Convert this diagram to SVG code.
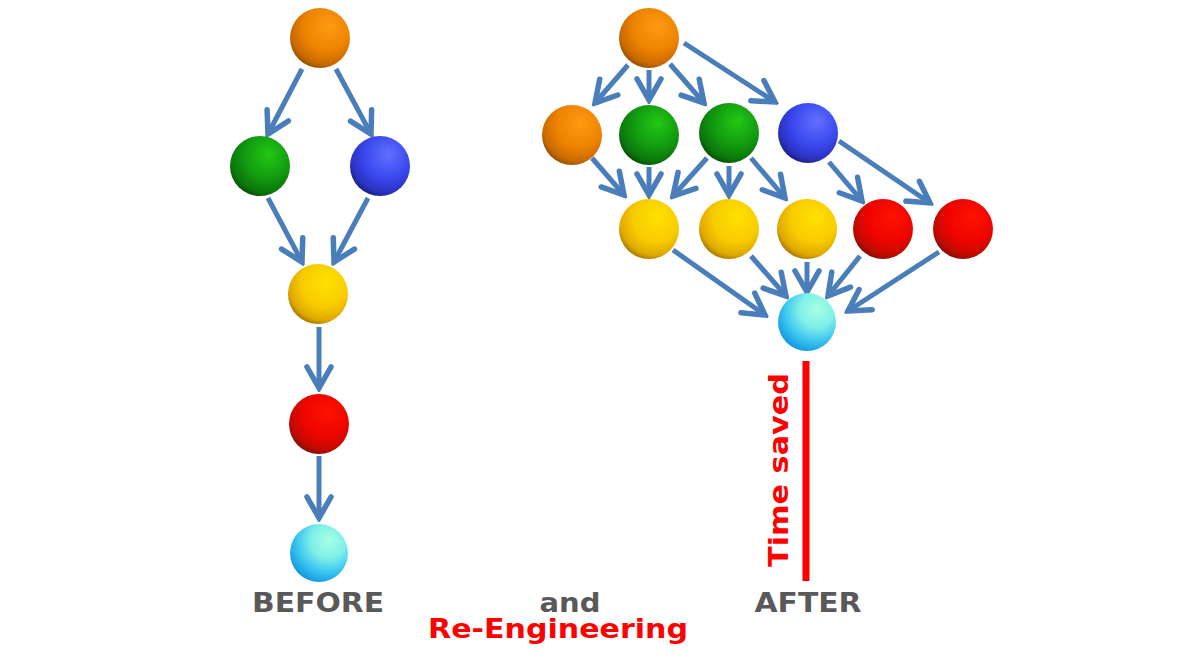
<svg xmlns="http://www.w3.org/2000/svg" width="1200" height="665" viewBox="0 0 1200 665">
<style>
.arr{fill:none;stroke:#4A7EBB;stroke-width:5;marker-end:url(#ah)}
.lbl{font-family:"DejaVu Sans","Liberation Sans",sans-serif;font-weight:bold;font-size:27px;text-anchor:middle}
.gray{fill:#595959}
.red{fill:#FF0000}
</style>
<defs>
<marker id="ah" markerUnits="userSpaceOnUse" viewBox="-26 -15 30 30" refX="0" refY="0" markerWidth="30" markerHeight="30" orient="auto">
<path d="M-21,-12 L0,0 L-21,12" fill="none" stroke="#4A7EBB" stroke-width="5.5" stroke-linecap="round" stroke-linejoin="miter"/>
</marker>
<radialGradient id="gO" cx="0.6" cy="0.35" r="0.7" fx="0.65" fy="0.3">
<stop offset="0" stop-color="#FF9A12"/><stop offset="0.55" stop-color="#EE8300"/><stop offset="0.85" stop-color="#C86A00"/><stop offset="1" stop-color="#8A4A00"/>
</radialGradient>
<radialGradient id="gG" cx="0.6" cy="0.35" r="0.7" fx="0.65" fy="0.3">
<stop offset="0" stop-color="#22C814"/><stop offset="0.55" stop-color="#129A10"/><stop offset="0.85" stop-color="#0B760B"/><stop offset="1" stop-color="#064806"/>
</radialGradient>
<radialGradient id="gB" cx="0.6" cy="0.35" r="0.7" fx="0.65" fy="0.3">
<stop offset="0" stop-color="#6070FF"/><stop offset="0.55" stop-color="#3A48EE"/><stop offset="0.85" stop-color="#2A32C0"/><stop offset="1" stop-color="#161C78"/>
</radialGradient>
<radialGradient id="gY" cx="0.6" cy="0.35" r="0.7" fx="0.65" fy="0.3">
<stop offset="0" stop-color="#FFE200"/><stop offset="0.55" stop-color="#F8CC00"/><stop offset="0.85" stop-color="#E0A800"/><stop offset="1" stop-color="#9A7000"/>
</radialGradient>
<radialGradient id="gR" cx="0.6" cy="0.35" r="0.7" fx="0.65" fy="0.3">
<stop offset="0" stop-color="#FF1200"/><stop offset="0.55" stop-color="#EE0500"/><stop offset="0.85" stop-color="#C00A00"/><stop offset="1" stop-color="#701010"/>
</radialGradient>
<radialGradient id="gC" cx="0.65" cy="0.3" r="0.75" fx="0.68" fy="0.28">
<stop offset="0" stop-color="#A8FFE4"/><stop offset="0.4" stop-color="#80F0E8"/><stop offset="0.7" stop-color="#40C8F0"/><stop offset="1" stop-color="#1098E0"/>
</radialGradient>
</defs>
<rect width="1200" height="665" fill="#FFFFFF"/>
<g id="connectors">
<line class="arr" x1="302" y1="69" x2="268" y2="134"/>
<line class="arr" x1="336" y1="69" x2="371" y2="134"/>
<line class="arr" x1="268" y1="198" x2="302" y2="262"/>
<line class="arr" x1="368" y1="198" x2="334" y2="262"/>
<line class="arr" x1="319" y1="327" x2="319" y2="388"/>
<line class="arr" x1="319" y1="456" x2="319" y2="518"/>
<line class="arr" x1="628" y1="65" x2="595" y2="103"/>
<line class="arr" x1="649" y1="70" x2="649" y2="100"/>
<line class="arr" x1="670" y1="64" x2="704" y2="103"/>
<line class="arr" x1="684" y1="43" x2="775" y2="102"/>
<line class="arr" x1="592" y1="158" x2="624" y2="195"/>
<line class="arr" x1="649" y1="167" x2="649" y2="195"/>
<line class="arr" x1="707" y1="158" x2="673" y2="196"/>
<line class="arr" x1="729" y1="166" x2="729" y2="195"/>
<line class="arr" x1="751" y1="158" x2="785" y2="198"/>
<line class="arr" x1="829" y1="162" x2="862" y2="201"/>
<line class="arr" x1="839" y1="141" x2="930" y2="203"/>
<line class="arr" x1="673" y1="250" x2="765" y2="315"/>
<line class="arr" x1="751" y1="256" x2="786" y2="296"/>
<line class="arr" x1="807" y1="262" x2="807" y2="292"/>
<line class="arr" x1="860" y1="256" x2="828" y2="296"/>
<line class="arr" x1="939" y1="252" x2="848" y2="311"/>
</g>
<g id="before-orange"><circle cx="320" cy="38" r="30" fill="url(#gO)"/></g>
<g id="before-green"><circle cx="260" cy="166" r="30" fill="url(#gG)"/></g>
<g id="before-blue"><circle cx="380" cy="166" r="30" fill="url(#gB)"/></g>
<g id="before-yellow"><circle cx="318" cy="294" r="30" fill="url(#gY)"/></g>
<g id="before-red"><circle cx="319" cy="424" r="30" fill="url(#gR)"/></g>
<g id="before-cyan"><circle cx="319" cy="553" r="29" fill="url(#gC)"/></g>
<g id="after-orange-top"><circle cx="649" cy="38" r="30" fill="url(#gO)"/></g>
<g id="after-orange"><circle cx="572" cy="135" r="30" fill="url(#gO)"/></g>
<g id="after-green1"><circle cx="649" cy="135" r="30" fill="url(#gG)"/></g>
<g id="after-green2"><circle cx="729" cy="133" r="30" fill="url(#gG)"/></g>
<g id="after-blue"><circle cx="808" cy="133" r="30" fill="url(#gB)"/></g>
<g id="after-yellow1"><circle cx="649" cy="229" r="30" fill="url(#gY)"/></g>
<g id="after-yellow2"><circle cx="729" cy="229" r="30" fill="url(#gY)"/></g>
<g id="after-yellow3"><circle cx="807" cy="229" r="30" fill="url(#gY)"/></g>
<g id="after-red1"><circle cx="883" cy="229" r="30" fill="url(#gR)"/></g>
<g id="after-red2"><circle cx="963" cy="229" r="30" fill="url(#gR)"/></g>
<g id="after-cyan"><circle cx="807" cy="322" r="29" fill="url(#gC)"/></g>
<g id="time-saved">
<line x1="806" y1="361" x2="806" y2="581" stroke="#FF0000" stroke-width="7"/>
<text class="lbl red" transform="translate(788,470) rotate(-90)" textLength="194" lengthAdjust="spacingAndGlyphs">Time saved</text>
</g>
<g id="labels">
<text class="lbl gray" x="318" y="612" textLength="132" lengthAdjust="spacingAndGlyphs">BEFORE</text>
<text class="lbl gray" x="570" y="612" textLength="61" lengthAdjust="spacingAndGlyphs">and</text>
<text class="lbl red" x="558" y="638" textLength="260" lengthAdjust="spacingAndGlyphs">Re-Engineering</text>
<text class="lbl gray" x="808" y="612" textLength="107" lengthAdjust="spacingAndGlyphs">AFTER</text>
</g>
</svg>
